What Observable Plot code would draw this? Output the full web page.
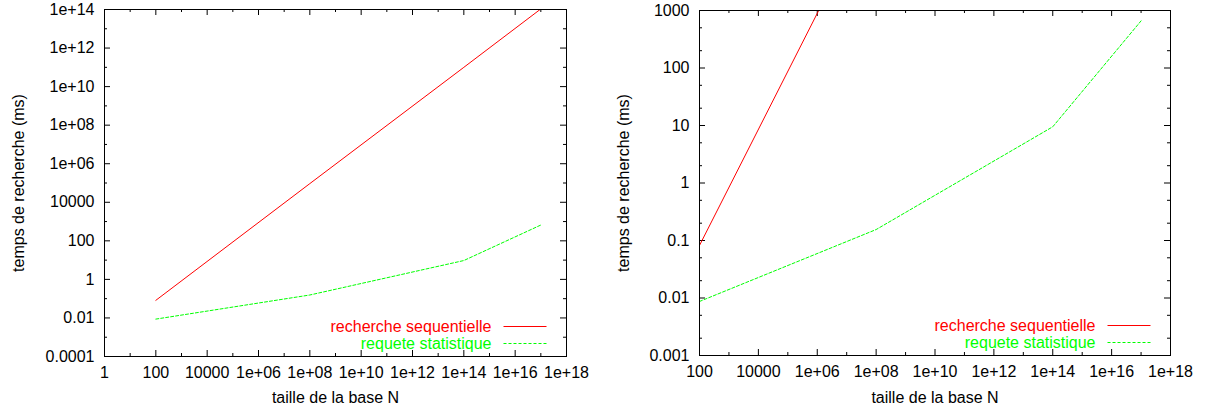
<!DOCTYPE html>
<html>
<head>
<meta charset="utf-8">
<script src="https://cdn.jsdelivr.net/npm/d3@7"></script>
<script src="https://cdn.jsdelivr.net/npm/@observablehq/plot@0.6"></script>
<style>
  html, body { margin: 0; padding: 0; background: #fff; }
  #wrap { position: relative; width: 1215px; height: 412px; overflow: hidden; }
  .panel { position: absolute; top: 0; }
</style>
</head>
<body>
<div id="wrap">
  <div class="panel" id="left" style="left:0px"></div>
  <div class="panel" id="right" style="left:607px"></div>
</div>
<script>
// ---- data ----
const tailleN = [100, 1e8, 1e14, 1e17];
const rechercheSequentielle = [0.082, 9.3e4, 1.0e11, 1.07e14];
const requeteStatistique = [0.0087, 0.155, 9.5, 660];

const seriesNames = ["recherche sequentielle", "requete statistique"];
const seriesColors = ["#ff0000", "#00ff00"];

// left panel ticks
const leftXTicks = [1, 100, 1e4, 1e6, 1e8, 1e10, 1e12, 1e14, 1e16, 1e18];
const leftXLabels = ["1", "100", "10000", "1e+06", "1e+08", "1e+10", "1e+12", "1e+14", "1e+16", "1e+18"];
const leftXMinor = [10, 1e3, 1e5, 1e7, 1e9, 1e11, 1e13, 1e15, 1e17];
const leftYTicks = [1e-4, 1e-2, 1, 100, 1e4, 1e6, 1e8, 1e10, 1e12, 1e14];
const leftYLabels = ["0.0001", "0.01", "1", "100", "10000", "1e+06", "1e+08", "1e+10", "1e+12", "1e+14"];
const leftYMinor = [1e-3, 0.1, 10, 1e3, 1e5, 1e7, 1e9, 1e11, 1e13];

// right panel ticks
const rightXTicks = [100, 1e4, 1e6, 1e8, 1e10, 1e12, 1e14, 1e16, 1e18];
const rightXLabels = ["100", "10000", "1e+06", "1e+08", "1e+10", "1e+12", "1e+14", "1e+16", "1e+18"];
const rightXMinor = [1e3, 1e5, 1e7, 1e9, 1e11, 1e13, 1e15, 1e17];
const rightYTicks = [0.001, 0.01, 0.1, 1, 10, 100, 1000];
const rightYLabels = ["0.001", "0.01", "0.1", "1", "10", "100", "1000"];
const rightYMinor = [0.002, 0.005, 0.02, 0.05, 0.2, 0.5, 2, 5, 20, 50, 200, 500];

const xLabel = "taille de la base N";
const yLabel = "temps de recherche (ms)";

const rows = [];
tailleN.forEach((n, i) => {
  rows.push({N: n, t: rechercheSequentielle[i], s: seriesNames[0]});
});
tailleN.forEach((n, i) => {
  rows.push({N: n, t: requeteStatistique[i], s: seriesNames[1]});
});

const FONT = "'Liberation Sans', Arial, Helvetica, sans-serif";

function panel(cfg) {
  const fw = cfg.width - cfg.ml - cfg.mr;
  const fh = cfg.height - cfg.mt - cfg.mb;
  const MAJ = 6, MIN = 3;
  const xl = new Map(cfg.xTicks.map((v, i) => [v, cfg.xLabels[i]]));
  const yl = new Map(cfg.yTicks.map((v, i) => [v, cfg.yLabels[i]]));
  const one = [0];
  const plot = Plot.plot({
    width: cfg.width,
    height: cfg.height,
    marginLeft: cfg.ml, marginRight: cfg.mr, marginTop: cfg.mt, marginBottom: cfg.mb,
    style: {fontFamily: FONT, fontSize: "16px", background: "#fff", color: "#000"},
    x: {type: "log", domain: cfg.xDomain, axis: null},
    y: {type: "log", domain: cfg.yDomain, axis: null},
    color: {domain: seriesNames, range: seriesColors},
    marks: [
      // major ticks, inward on all four sides
      Plot.tickX(cfg.xTicks, {x: d => d, insetTop: fh - MAJ, stroke: "#000"}),
      Plot.tickX(cfg.xTicks, {x: d => d, insetBottom: fh - MAJ, stroke: "#000"}),
      Plot.tickX(cfg.xMinor, {x: d => d, insetTop: fh - MIN, stroke: "#000"}),
      Plot.tickX(cfg.xMinor, {x: d => d, insetBottom: fh - MIN, stroke: "#000"}),
      Plot.tickY(cfg.yTicks, {y: d => d, insetRight: fw - MAJ, stroke: "#000"}),
      Plot.tickY(cfg.yTicks, {y: d => d, insetLeft: fw - MAJ, stroke: "#000"}),
      Plot.tickY(cfg.yMinor, {y: d => d, insetRight: fw - MIN, stroke: "#000"}),
      Plot.tickY(cfg.yMinor, {y: d => d, insetLeft: fw - MIN, stroke: "#000"}),
      Plot.axisX({ticks: cfg.xTicks, tickFormat: d => xl.get(d), tickSize: 0, tickPadding: 10, fontSize: 16, label: null}),
      Plot.axisY({ticks: cfg.yTicks, tickFormat: d => yl.get(d), tickSize: 0, tickPadding: 10, fontSize: 16, label: null}),
      Plot.line(rows.filter(d => d.s === seriesNames[0]), {x: "N", y: "t", stroke: seriesColors[0], strokeWidth: 1, clip: true}),
      Plot.line(rows.filter(d => d.s === seriesNames[1]), {x: "N", y: "t", stroke: seriesColors[1], strokeWidth: 1, strokeDasharray: "3,2", clip: true}),
      Plot.frame({stroke: "#000", strokeWidth: 1}),
      // axis titles
      Plot.text(one, {frameAnchor: "bottom", text: () => xLabel, dy: cfg.xLabelDy, textAnchor: "middle", lineAnchor: "middle", fontSize: 16, fill: "#000"}),
      Plot.text(one, {frameAnchor: "left", text: () => yLabel, rotate: -90, dx: cfg.yLabelDx, textAnchor: "middle", lineAnchor: "middle", fontSize: 16, fill: "#000"}),
      // legend text
      Plot.text(one, {frameAnchor: "bottom-right", text: () => seriesNames[0], textAnchor: "end", lineAnchor: "middle", dx: -75, dy: -30, fontSize: 16, fill: seriesColors[0]}),
      Plot.text(one, {frameAnchor: "bottom-right", text: () => seriesNames[1], textAnchor: "end", lineAnchor: "middle", dx: -75, dy: -13, fontSize: 16, fill: seriesColors[1]})
    ]
  });
  // legend samples
  const ns = "http://www.w3.org/2000/svg";
  const g = document.createElementNS(ns, "g");
  g.setAttribute("transform", "translate(0.5,0.5)");
  const right = cfg.width - cfg.mr;
  const bottom = cfg.height - cfg.mb;
  [[-30, seriesColors[0], null], [-13, seriesColors[1], "3,2"]].forEach(([dy, c, dash]) => {
    const l = document.createElementNS(ns, "line");
    l.setAttribute("x1", right - 63);
    l.setAttribute("x2", right - 20);
    l.setAttribute("y1", Math.round(bottom + dy));
    l.setAttribute("y2", Math.round(bottom + dy));
    l.setAttribute("stroke", c);
    if (dash) l.setAttribute("stroke-dasharray", dash);
    g.appendChild(l);
  });
  plot.appendChild(g);
  return plot;
}

document.getElementById("left").appendChild(panel({
  width: 607, height: 412, ml: 104, mr: 41, mt: 9, mb: 56,
  xDomain: [1, 1e18], yDomain: [1e-4, 1e14],
  xTicks: leftXTicks, xLabels: leftXLabels, xMinor: leftXMinor,
  yTicks: leftYTicks, yLabels: leftYLabels, yMinor: leftYMinor,
  xLabelDy: 41, yLabelDx: -86
}));
document.getElementById("right").appendChild(panel({
  width: 608, height: 412, ml: 92, mr: 45, mt: 10, mb: 57,
  xDomain: [100, 1e18], yDomain: [1e-3, 1e3],
  xTicks: rightXTicks, xLabels: rightXLabels, xMinor: rightXMinor,
  yTicks: rightYTicks, yLabels: rightYLabels, yMinor: rightYMinor,
  xLabelDy: 42, yLabelDx: -76
}));
</script>
</body>
</html>
